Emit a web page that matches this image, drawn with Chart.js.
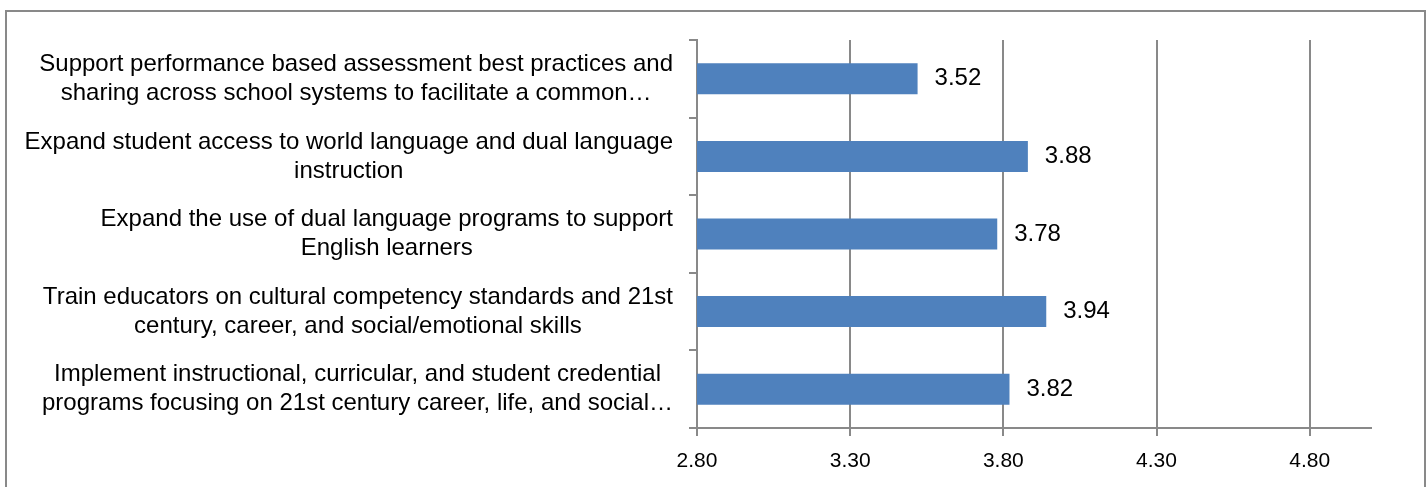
<!DOCTYPE html>
<html>
<head>
<meta charset="utf-8">
<script src="https://cdn.jsdelivr.net/npm/chart.js@4/dist/chart.umd.min.js"></script>
<style>
  html, body { margin: 0; padding: 0; background: #fff; overflow: hidden; }
  .frame { position: absolute; left: 5px; top: 10px; width: 1417px; height: 520px; border: 2px solid #898989; }
  .wrap { position: absolute; left: 0; top: 0; width: 1428px; height: 487px; }
</style>
</head>
<body>
<div class="frame"></div>
<div class="wrap"><canvas class="js-chart" width="1428" height="487"></canvas></div>
<script>
const categories = [
  ["Support performance based assessment best practices and", "sharing across school systems to facilitate a common…"],
  ["Expand student access to world language and dual language", "instruction"],
  ["Expand the use of dual language programs to support", "English learners"],
  ["Train educators on cultural competency standards and 21st", "century, career, and social/emotional skills"],
  ["Implement instructional, curricular, and student credential", "programs focusing on 21st century career, life, and social…"]
];
const values = [3.52, 3.88, 3.78, 3.94, 3.82];
const tickValues = [2.8, 3.3, 3.8, 4.3, 4.8];
const axisMin = 2.8;
const axisMax = 5.0;

const elChart = document.querySelector(".js-chart");
const labelFont = "24px 'Liberation Sans', Arial, sans-serif";

// draws the wrapped category names, lines centred, block right aligned
const categoryLabels = {
  id: "categoryLabels",
  afterDraw(chart) {
    const ctx = chart.ctx;
    const yScale = chart.scales.y;
    const right = yScale.right - 24;
    ctx.save();
    ctx.font = labelFont;
    ctx.fillStyle = "#000";
    ctx.textAlign = "center";
    ctx.textBaseline = "middle";
    categories.forEach((lines, i) => {
      const blockWidth = Math.max(...lines.map(l => ctx.measureText(l).width));
      const cx = right - blockWidth / 2;
      const cy = yScale.getPixelForValue(i);
      const lineHeight = 29;
      lines.forEach((line, k) => {
        ctx.fillText(line, cx, cy + (k - (lines.length - 1) / 2) * lineHeight);
      });
    });
    ctx.restore();
  }
};

// value labels to the right of each bar
const valueLabels = {
  id: "valueLabels",
  afterDatasetsDraw(chart) {
    const ctx = chart.ctx;
    const meta = chart.getDatasetMeta(0);
    ctx.save();
    ctx.font = labelFont;
    ctx.fillStyle = "#000";
    ctx.textAlign = "left";
    ctx.textBaseline = "middle";
    meta.data.forEach((bar, i) => {
      ctx.fillText(values[i].toFixed(2), bar.x + 17, bar.y);
    });
    ctx.restore();
  }
};

new Chart(elChart, {
  type: "bar",
  data: {
    labels: categories.map((c, i) => i),
    datasets: [
      {
        data: values,
        backgroundColor: "#4F81BD",
        borderWidth: 0,
        categoryPercentage: 1,
        barPercentage: 0.4
      }
    ]
  },
  options: {
    indexAxis: "y",
    responsive: false,
    animation: false,
    devicePixelRatio: 1,
    layout: { padding: { top: 40, right: 57, bottom: 0, left: 0 } },
    plugins: {
      legend: { display: false },
      tooltip: { enabled: false }
    },
    scales: {
      x: {
        min: axisMin,
        max: axisMax,
        afterBuildTicks: (scale) => {
          scale.ticks = tickValues.map(v => ({ value: v }));
        },
        afterFit: (scale) => { scale.height = 59; },
        grid: {
          color: "#898989",
          lineWidth: 2,
          tickLength: 8,
          drawTicks: true
        },
        border: { display: true, color: "#898989", width: 2 },
        ticks: {
          color: "#000",
          padding: 13,
          font: { family: "'Liberation Sans', Arial, sans-serif", size: 21 },
          callback: (v) => Number(v).toFixed(2)
        }
      },
      y: {
        afterFit: (scale) => { scale.width = 697; },
        grid: {
          offset: true,
          drawOnChartArea: false,
          drawTicks: true,
          tickLength: 8,
          color: "#898989",
          lineWidth: 2
        },
        border: { display: true, color: "#898989", width: 2 },
        ticks: { display: false }
      }
    }
  },
  plugins: [categoryLabels, valueLabels]
});
</script>
</body>
</html>
